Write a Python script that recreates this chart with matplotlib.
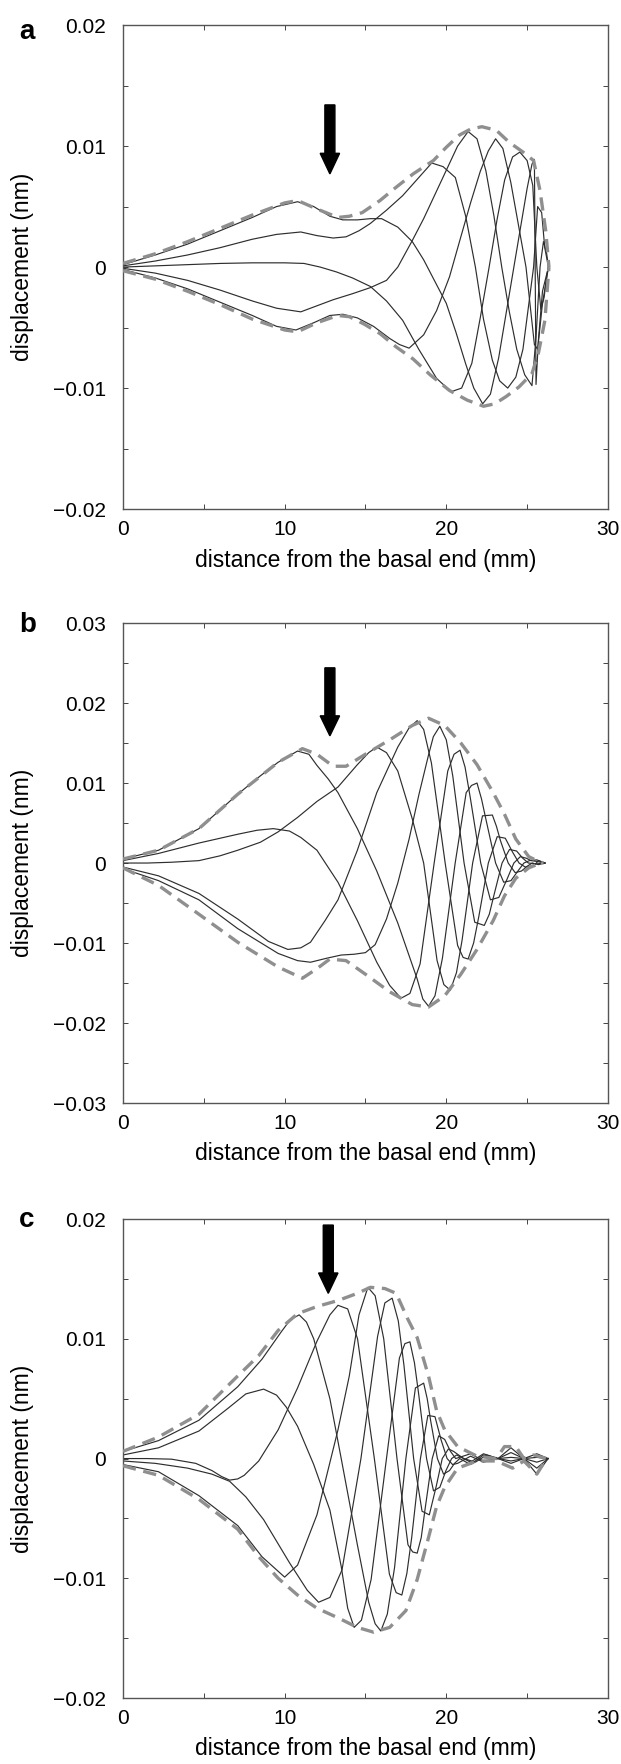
import numpy as np
import matplotlib.pyplot as plt
from matplotlib.patches import FancyArrow
from matplotlib.ticker import MultipleLocator

plt.rcParams['font.family'] = ['Liberation Sans', 'DejaVu Sans']

# displacement values below are in units of 0.001 nm
SCALE = 1e-3

# ---------------- panel a ----------------
a1_x = [0, 2, 4, 6, 8, 9.5, 10.8, 11.8, 12.8, 13.6, 14.5, 15.3, 16.0, 17.0, 17.9, 18.6, 19.3, 20.0, 20.6,
        21.2, 21.7, 22.25, 22.73, 23.24, 24.18, 25.0, 25.3, 25.45, 25.55, 25.7, 25.95, 26.32]
a1_y = [0.2, 1.0, 1.9, 3.0, 4.1, 5.0, 5.4, 5.0, 4.2, 3.9, 3.9, 4.0, 4.0, 3.3, 2.1, 0.6, -1.2, -3.0, -5.4,
        -8.0, -10.0, -11.3, -10.5, -7.5, 0.0, 6.5, 8.5, 8.9, -9.7, -6.0, -2.0, 0.0]
a2_x = [0, 2, 4, 6, 8, 9.5, 11.0, 12.0, 13.0, 13.8, 14.6, 15.3, 16.3, 17.3, 18.3, 19.1, 19.8, 20.56, 21.2,
        21.8, 22.3, 22.85, 23.3, 23.8, 24.3, 24.74, 25.4, 25.65, 25.9, 26.09, 26.32]
a2_y = [0.1, 0.5, 1.0, 1.6, 2.3, 2.7, 2.9, 2.6, 2.4, 2.5, 3.0, 3.6, 4.7, 5.9, 7.4, 8.6, 8.3, 7.4, 4.2,
        0.0, -4.3, -7.7, -9.4, -10.0, -9.1, -6.8, 0.0, 5.0, 4.5, 1.6, 0.0]
a3_x = [0, 2, 4, 6, 8, 10, 11.2, 12.2, 13.2, 14.2, 15.3, 16.3, 17.3, 18.3, 19.4, 20.3, 20.95, 21.58, 22.1,
        22.65, 23.15, 23.61, 24.1, 24.55, 25.0, 25.35, 25.6, 25.85, 26.05, 26.23, 26.32]
a3_y = [0.0, 0.1, 0.2, 0.3, 0.35, 0.35, 0.3, 0.0, -0.4, -0.9, -1.6, -2.8, -4.4, -6.8, -9.2, -10.3, -10.0, -7.95,
        -4.2, 0.0, 4.0, 7.2, 9.1, 9.5, 8.8, 6.75, 0.0, -3.5, -2.5, -0.6, 0.0]
a4_x = [0, 2, 4, 6, 8, 9.5, 11.0, 12.0, 13.0, 14.2, 15.3, 16.3, 17.0, 17.9, 18.6, 19.3, 20.0, 20.7, 21.35,
        21.9, 22.45, 22.95, 23.43, 23.9, 24.36, 24.85, 25.3, 25.55, 25.8, 26.01, 26.2, 26.32]
a4_y = [-0.1, -0.5, -1.1, -1.9, -2.8, -3.4, -3.7, -3.2, -2.7, -2.2, -1.7, -1.1, 0.0, 2.2, 4.0, 6.0, 8.0, 10.0,
        11.2, 10.6, 7.95, 4.2, 0.0, -3.7, -6.8, -8.9, -9.8, -5.8, 0.0, 2.1, 1.2, 0.0]
a5_x = [0, 2, 4, 6, 8, 9.5, 10.7, 11.8, 12.8, 13.6, 14.5, 15.5, 16.5, 17.1, 17.7, 18.6, 19.4, 20.2, 20.9,
        21.5, 22.1, 22.6, 23.05, 23.5, 23.99, 24.93, 25.45, 25.65, 25.95, 26.32]
a5_y = [-0.2, -0.9, -1.8, -2.9, -4.0, -4.9, -5.2, -4.6, -4.0, -3.9, -4.2, -4.9, -5.9, -6.4, -6.7, -5.6, -3.6,
        -0.8, 2.5, 5.3, 7.9, 9.6, 10.6, 9.8, 7.0, 0.0, -6.4, -6.8, -3.0, 0.0]
a_up_x = [0, 2, 4, 6, 8, 10, 10.8, 12.0, 13.3, 14.0, 14.8, 15.9, 16.9, 17.95, 19.2, 20.0, 20.8, 21.5, 22.2,
          23.1, 23.9, 24.75, 25.4, 25.8, 26.15, 26.35]
a_up_y = [0.3, 1.1, 2.1, 3.2, 4.3, 5.3, 5.5, 4.8, 4.1, 4.2, 4.5, 5.5, 6.6, 7.7, 8.8, 9.9, 10.9, 11.4, 11.6,
          11.3, 10.3, 9.5, 8.8, 6.3, 3.0, 0.0]
a_lo_x = [0, 2, 4, 6, 8, 10, 10.8, 12.0, 13.3, 14.0, 14.9, 15.9, 16.9, 17.95, 19.0, 20.2, 21.3, 22.3, 23.0,
          23.7, 24.5, 25.3, 25.7, 26.1, 26.35]
a_lo_y = [-0.3, -1.0, -2.0, -3.1, -4.3, -5.2, -5.35, -4.6, -4.0, -4.1, -4.7, -5.5, -6.6, -7.6, -8.9, -10.2,
          -11.0, -11.5, -11.3, -10.7, -9.9, -8.8, -7.1, -4.4, 0.0]

# ---------------- panel b ----------------
b1_x = [0, 2.2, 4.7, 7.1, 8.5, 9.6, 10.8, 11.5, 12.0, 12.7, 13.3, 14.5, 15.7, 17.0, 18.2, 18.55, 18.9, 19.3,
        19.76, 20.55, 21.23, 21.56, 21.9, 22.18, 22.48, 23.05, 23.55, 24.0, 24.43, 24.8, 25.14, 25.6, 26.1]
b1_y = [0.5, 1.6, 4.3, 8.6, 10.9, 12.6, 14.0, 13.6, 12.2, 10.5, 8.8, 4.3, -1.0, -7.5, -14.5, -17.0, -17.9,
        -16.6, -11.9, 0.0, 8.8, 9.7, 10.0, 8.0, 5.2, 0.0, -2.4, -2.2, -1.0, 0.0, 0.3, 0.4, 0.0]
b2_x = [0, 2.2, 4.7, 7.1, 8.3, 9.3, 10.3, 11.0, 12.0, 13.3, 14.5, 15.7, 16.5, 17.2, 17.75, 18.38, 19.25,
        20.09, 20.48, 20.85, 21.16, 21.49, 22.13, 22.73, 23.25, 23.74, 24.18, 24.58, 24.95, 25.25, 25.6, 26.1]
b2_y = [0.3, 1.2, 2.5, 3.6, 4.1, 4.3, 4.0, 3.2, 1.6, -2.4, -7.2, -12.4, -15.3, -16.9, -16.3, -12.6, 0.0,
        11.5, 13.6, 14.1, 12.0, 8.1, 0.0, -4.6, -4.3, -2.1, 0.0, 0.8, 0.6, 0.3, 0.2, 0.0]
b3_x = [0, 1.5, 3, 4.7, 6, 7.1, 8.5, 9.6, 10.8, 12, 13.3, 14.5, 15.2, 15.7, 16.3, 17.0, 17.9, 18.6, 19.43,
        19.85, 20.25, 20.63, 20.98, 21.63, 22.24, 22.85, 23.1, 23.35, 23.83, 24.26, 24.65, 25.0, 25.32, 25.7,
        26.1]
b3_y = [0.0, 0.0, 0.1, 0.3, 0.9, 1.6, 2.6, 3.9, 5.7, 7.7, 9.5, 12.3, 13.8, 14.5, 13.8, 11.5, 5.5, 0.0, -12.2,
        -15.2, -15.9, -13.7, -9.6, 0.0, 5.9, 6.0, 4.6, 2.8, 0.0, -1.2, -1.0, -0.4, 0.0, -0.2, 0.0]
b4_x = [0, 2.2, 4.7, 7.1, 9.0, 10.2, 11.0, 11.6, 12.5, 13.3, 14.5, 15.7, 17.0, 17.7, 18.2, 18.6, 19.08, 19.93,
        20.7, 21.04, 21.35, 21.69, 22.01, 22.6, 23.15, 23.65, 24.09, 24.5, 24.88, 25.2, 25.5, 25.7, 26.1]
b4_y = [-0.5, -1.6, -3.8, -7.0, -9.8, -10.8, -10.6, -9.9, -7.2, -4.6, 1.6, 8.8, 14.5, 16.9, 17.8, 16.7, 12.5,
        0.0, -10.3, -11.8, -12.0, -10.0, -6.7, 0.0, 3.3, 3.1, 1.4, 0.0, -0.5, -0.4, -0.15, 0.3, 0.0]
b5_x = [0, 2.2, 4.7, 7.1, 9.6, 10.8, 11.6, 12.6, 13.5, 14.3, 15.0, 15.6, 16.3, 17.0, 17.7, 18.3, 18.9, 19.2,
        19.6, 20.0, 20.4, 21.1, 21.76, 22.35, 22.66, 22.95, 23.45, 23.91, 24.35, 24.73, 25.08, 25.6, 26.1]
b5_y = [-0.7, -2.2, -4.6, -8.2, -11.3, -12.2, -12.4, -11.9, -11.5, -11.4, -11.2, -10.2, -7.0, -2.5, 3.0, 8.5,
        13.5, 15.8, 17.1, 15.4, 10.9, 0.0, -7.4, -7.8, -6.4, -4.0, 0.0, 1.7, 1.5, 0.6, 0.0, -0.1, 0.0]
b_up_x = [0, 2.2, 4.7, 7.1, 9.6, 11.1, 12.0, 13.0, 13.8, 15.0, 16.5, 17.9, 18.9, 19.9, 20.9, 21.9, 22.9,
          23.6, 24.3, 25.1, 25.6, 26.0]
b_up_y = [0.5, 1.6, 4.3, 8.6, 12.6, 14.3, 13.6, 12.1, 12.1, 13.6, 15.4, 17.2, 18.1, 17.2, 15.0, 12.3, 8.8,
          6.1, 3.0, 0.8, 0.3, 0.0]
b_lo_x = [0, 2.2, 4.7, 7.1, 9.6, 11.1, 12.0, 12.8, 13.8, 15.0, 16.5, 17.9, 18.9, 19.9, 20.9, 21.9, 22.9,
          23.6, 24.3, 25.1, 25.6, 26.0]
b_lo_y = [-0.6, -2.8, -6.4, -9.9, -13.0, -14.4, -13.2, -12.0, -12.2, -13.9, -16.1, -17.7, -18.0, -16.6,
          -13.9, -10.8, -7.2, -4.1, -1.9, -0.6, -0.2, 0.0]

# ---------------- panel c ----------------
c1_x = [0, 1.5, 3, 4.5, 5.5, 6.1, 6.6, 7.1, 7.5, 8.4, 9.6, 10.8, 12.0, 12.8, 13.3, 13.9, 14.51, 15.55, 16.48,
        16.9, 17.25, 17.56, 17.86, 18.4, 18.86, 19.3, 19.68, 20.05, 20.39, 20.7, 21.5, 22.3, 23.2, 24.0, 24.8,
        25.6, 26.3]
c1_y = [0.0, 0.0, -0.05, -0.4, -1.0, -1.5, -1.8, -1.7, -1.4, -0.2, 2.4, 5.9, 9.8, 12.0, 12.8, 12.5, 10.0, 0.0,
        -9.65, -11.2, -11.4, -9.6, -6.6, 0.0, 3.6, 3.5, 1.55, 0.0, -0.5, -0.4, 0.2, -0.3, 0.0, 0.9, 0.0, -1.3,
        0.0]
c2_x = [0, 2.2, 4.7, 6.5, 7.6, 8.7, 9.5, 10.1, 10.8, 11.8, 12.8, 13.5, 13.9, 14.3, 14.75, 15.35, 16.3, 17.1,
        17.44, 17.75, 18.03, 18.3, 18.78, 19.21, 19.6, 19.98, 20.33, 20.64, 21.5, 22.3, 23.2, 24.0, 24.8, 25.6,
        26.3]
c2_y = [0.3, 0.9, 2.3, 4.2, 5.4, 5.8, 5.3, 4.3, 2.7, -0.5, -4.3, -9.0, -12.5, -14.1, -13.5, -10.1, 0.0, 8.4,
        9.6, 9.75, 8.0, 5.3, 0.0, -2.7, -2.4, -1.0, 0.0, 0.3, -0.3, 0.4, 0.0, 0.5, 0.0, -0.8, 0.0]
c3_x = [0, 2.2, 4.7, 7.1, 8.6, 10.0, 10.8, 12.0, 13.3, 14.0, 14.6, 15.15, 15.6, 16.13, 16.95, 17.63, 17.92,
        18.2, 18.45, 18.69, 19.13, 19.53, 19.9, 20.26, 20.58, 21.5, 22.3, 23.2, 24.0, 24.8, 25.6, 26.3]
c3_y = [-0.5, -1.1, -3.1, -5.6, -8.2, -9.9, -8.9, -4.7, 2.4, 6.9, 12.0, 14.3, 13.6, 10.0, 0.0, -7.2, -7.8,
        -7.9, -6.6, -4.2, 0.0, 1.9, 1.6, 0.6, 0.0, 0.4, -0.2, 0.0, 0.1, 0.0, -0.3, 0.0]
c4_x = [0, 2.2, 4.7, 7.1, 8.6, 9.8, 10.35, 10.9, 11.35, 11.8, 12.8, 13.5, 14.5, 15.2, 15.6, 15.95, 16.35, 16.8,
        17.5, 18.09, 18.6, 18.82, 19.04, 19.45, 19.83, 20.2, 20.51, 20.83, 21.5, 22.3, 23.2, 24.0, 24.8, 25.6,
        26.3]
c4_y = [0.6, 1.5, 3.2, 6.0, 8.3, 10.6, 11.6, 12.0, 11.4, 10.0, 5.0, 0.0, -7.2, -12.0, -13.8, -14.4, -13.0,
        -9.1, 0.0, 5.9, 6.3, 5.0, 3.1, 0.0, -1.3, -1.0, -0.4, 0.0, -0.5, 0.3, 0.0, -0.2, 0.0, 0.1, 0.0]
c5_x = [0, 2, 4, 5.5, 6.6, 7.6, 8.7, 10.3, 11.4, 12.1, 12.8, 13.55, 14.72, 15.75, 16.2, 16.65, 17.03, 17.38,
        17.98, 18.5, 18.95, 19.38, 19.75, 20.13, 20.45, 20.76, 21.08, 21.8, 22.5, 23.2, 24.0, 24.8, 25.6, 26.3]
c5_y = [-0.2, -0.4, -0.8, -1.3, -1.9, -3.2, -5.1, -8.7, -11.0, -12.0, -11.6, -9.3, 0.0, 10.2, 13.0, 13.4,
        11.5, 7.8, 0.0, -4.4, -4.7, -2.3, 0.0, 0.8, 0.6, 0.3, 0.0, -0.3, 0.3, 0.0, -0.4, 0.0, 0.4, 0.0]
c_up_x = [0, 2.2, 4.7, 7.1, 8.4, 9.6, 10.8, 12.0, 13.3, 14.5, 15.3, 16.2, 16.9, 17.6, 18.2, 18.9, 19.4, 19.9,
          20.7, 21.9, 23.1, 23.6, 24.3, 24.8, 25.4, 26.2]
c_up_y = [0.6, 1.8, 3.7, 6.9, 8.6, 10.7, 12.1, 12.7, 13.2, 13.8, 14.3, 14.2, 13.8, 11.7, 10.1, 6.9, 4.0, 2.4,
          1.0, 0.2, 0.0, 1.0, 1.0, 0.0, 0.3, 0.0]
c_lo_x = [0, 2.2, 4.7, 7.1, 8.4, 9.6, 10.8, 12.0, 13.3, 14.5, 15.5, 16.5, 17.5, 18.2, 18.9, 19.4, 19.9, 20.7,
          21.9, 23.1, 24.1, 24.8, 25.6, 26.2]
c_lo_y = [-0.6, -1.4, -3.4, -5.9, -8.2, -10.0, -11.4, -12.5, -13.3, -14.1, -14.5, -14.1, -12.7, -10.1, -6.6,
          -4.0, -2.4, -0.8, -0.2, -0.2, -0.8, -0.2, -1.3, 0.0]

# arrows (x position, shaft top, tip, head length), same units
arrow_a = (12.8, 13.4, 7.7, 1.7)
arrow_b = (12.8, 24.4, 15.9, 2.5)
arrow_c = (12.7, 19.5, 13.8, 1.7)

y_limits = {'a': 20, 'b': 30, 'c': 20}

fig = plt.figure(figsize=(6.21, 17.64), dpi=100)


def fmt(v):
    if v == 0:
        return '0'
    s = '%g' % abs(v)
    return ('\u2212' + s) if v < 0 else s


def panel(rect, curves, up, lo, lim, arrow, letter, letter_y):
    ax = fig.add_axes(rect)
    for xs, ys in curves:
        ax.plot(xs, np.array(ys) * SCALE, color='#2e2e2e', lw=0.85, zorder=2)
    for xs, ys in (up, lo):
        ax.plot(xs, np.array(ys) * SCALE, color='#8f8f8f', lw=2.4, dashes=(4.0, 2.3),
                solid_capstyle='butt', zorder=3)
    ax_x, top, tip, head = arrow
    ax.add_patch(FancyArrow(ax_x, top * SCALE, 0, (tip - top) * SCALE, width=0.62, head_width=1.2,
                            head_length=head * SCALE, length_includes_head=True, color='black', zorder=4))
    ax.set_xlim(0, 30)
    ax.set_ylim(-lim * SCALE, lim * SCALE)
    ax.xaxis.set_major_locator(MultipleLocator(10))
    ax.xaxis.set_minor_locator(MultipleLocator(5))
    ax.yaxis.set_minor_locator(MultipleLocator(0.005))
    ticks = np.arange(-lim, lim + 1, 10)
    ax.set_yticks(ticks * SCALE)
    ax.set_yticklabels([fmt(t / 1000) for t in ticks])
    ax.tick_params(which='both', direction='in', top=True, right=True, length=3.5, width=0.7,
                   color='#444444', labelsize=15)
    ax.tick_params(axis='x', pad=8)
    ax.tick_params(axis='y', pad=12)
    for s in ax.spines.values():
        s.set_color('#555555')
        s.set_linewidth(1.0)
    ax.set_xlabel('distance from the basal end (mm)', fontsize=16.5)
    ax.set_ylabel('displacement (nm)', fontsize=16.5)
    ax.xaxis.set_label_coords(0.5, -0.082)
    ax.yaxis.set_label_coords(-0.184, 0.5)
    fig.text(0.031, letter_y, letter, fontsize=20, fontweight='bold', ha='left', va='baseline')
    return ax


panel([0.198, 0.7114, 0.781, 0.2744],
      [(a1_x, a1_y), (a2_x, a2_y), (a3_x, a3_y), (a4_x, a4_y), (a5_x, a5_y)],
      (a_up_x, a_up_y), (a_lo_x, a_lo_y), y_limits['a'], arrow_a, 'a', 1 - 39 / 1764)
panel([0.198, 0.3747, 0.781, 0.2721],
      [(b1_x, b1_y), (b2_x, b2_y), (b3_x, b3_y), (b4_x, b4_y), (b5_x, b5_y)],
      (b_up_x, b_up_y), (b_lo_x, b_lo_y), y_limits['b'], arrow_b, 'b', 1 - 632 / 1764)
panel([0.198, 0.0374, 0.781, 0.2715],
      [(c1_x, c1_y), (c2_x, c2_y), (c3_x, c3_y), (c4_x, c4_y), (c5_x, c5_y)],
      (c_up_x, c_up_y), (c_lo_x, c_lo_y), y_limits['c'], arrow_c, 'c', 1 - 1227 / 1764)

fig.savefig('out.png', dpi=100)
